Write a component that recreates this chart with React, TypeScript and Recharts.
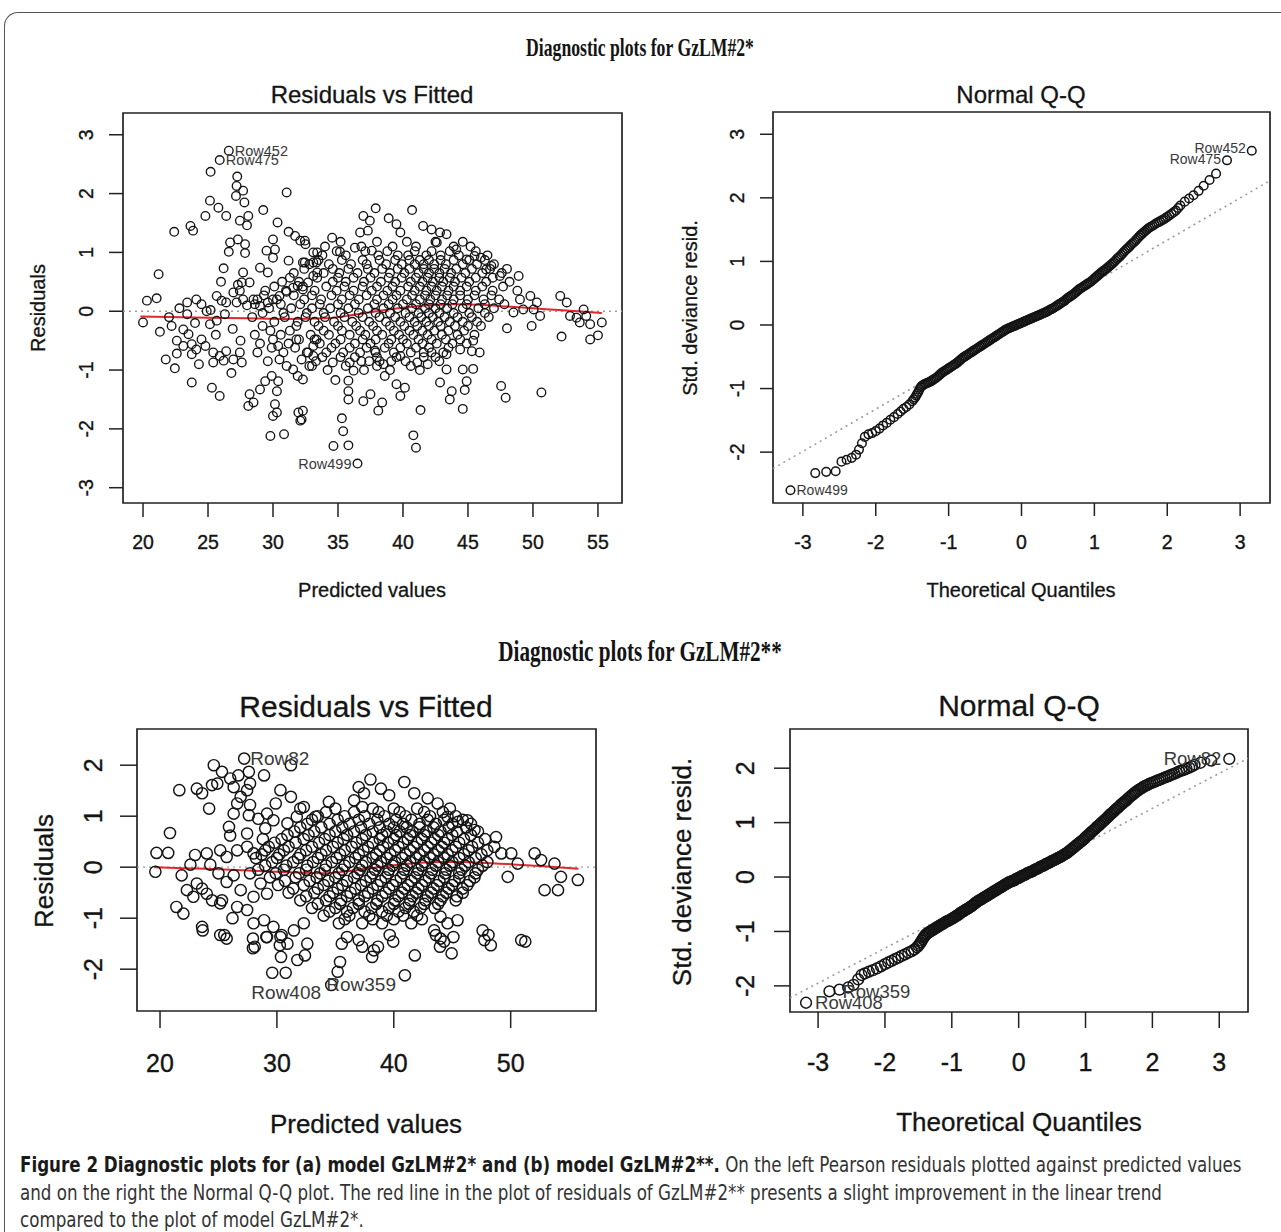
import React from 'react';
import { ComposedChart, Scatter, Line, XAxis, YAxis, ReferenceArea, ReferenceLine } from 'recharts';

const SANS = '"Liberation Sans", Arial, Helvetica, sans-serif';
const SERIF = '"Liberation Serif", "Times New Roman", serif';
const NARROW = '"Liberation Sans Narrow", "Arial Narrow", "DejaVu Sans Condensed", sans-serif';

type P = { x: number; y: number; name?: string };

// ---------- (a) GzLM#2* : residuals vs fitted ----------
const resid1Scattered: number[][] = [
  [26.6, 2.73], [25.9, 2.57], [25.2, 2.37], [27.25, 2.29], [27.2, 2.13], [27.15, 1.96], [27.7, 2.05], [27.8, 1.85],
  [31.05, 2.02], [25.15, 1.88], [25.8, 1.76], [26.4, 1.62], [24.8, 1.62], [22.4, 1.35], [23.65, 1.45], [23.85, 1.37],
  [27.45, 1.54], [28.1, 1.62], [28.0, 1.46], [29.25, 1.72], [30.35, 1.51], [31.2, 1.35], [31.7, 1.28], [32.1, 1.2],
  [32.5, 1.14], [26.7, 1.17], [27.3, 1.22], [27.85, 1.14], [26.6, 1.01], [27.85, 0.99], [30.0, 1.22], [29.5, 1.03],
  [30.15, 1.05], [30.0, 0.91], [26.2, 0.73], [21.2, 0.63], [29.0, 0.74], [29.6, 0.66], [31.2, 0.86], [32.3, 0.83],
  [33.1, 0.83], [33.4, 1.0], [27.7, 0.66], [28.2, 0.49], [27.6, 0.49], [20.3, 0.18], [21.05, 0.22], [23.4, 0.15],
  [24.1, 0.2], [24.5, 0.12], [25.67, 0.26], [26.05, 0.18], [26.95, 0.32], [27.45, 0.35], [27.7, 0.2], [28.5, 0.2],
  [26.4, 0.15], [27.2, 0.15], [29.0, 0.09], [29.6, 0.15], [30.0, 0.2], [30.5, 0.26], [31.05, 0.33], [31.55, 0.4],
  [31.9, 0.43], [32.3, 0.37], [32.7, 0.49], [33.1, 0.6], [33.4, 0.66], [20.0, -0.19],
  [22.2, -0.25], [23.1, -0.31], [23.5, -0.39], [22.6, -0.5], [23.1, -0.59], [23.75, -0.56], [24.1, -0.65], [24.5, -0.48],
  [24.8, -0.59], [25.15, -0.22], [25.67, -0.16], [23.75, -0.73], [25.4, -0.7], [25.9, -0.76], [26.4, -0.68], [26.95, -0.82],
  [27.6, -0.87], [27.45, -0.7], [25.4, -0.87], [26.2, -0.84], [21.75, -0.82], [22.45, -0.97], [23.75, -1.21], [25.3, -1.3],
  [25.9, -1.44], [28.2, -1.41], [28.5, -1.55], [28.1, -1.61], [29.0, -1.33], [29.4, -1.19], [29.9, -1.1], [30.4, -1.19],
  [30.3, -1.36], [30.15, -1.58], [30.3, -1.72], [30.0, -1.78], [29.8, -2.12], [30.85, -2.09], [31.95, -1.72], [32.1, -1.86],
  [30.0, -0.48], [30.4, -0.59], [30.8, -0.7], [30.5, -0.82], [31.05, -0.93], [31.55, -0.99], [31.9, -1.1], [32.3, -1.16],
  [32.8, -0.93], [33.1, -0.76], [32.2, -0.82], [32.6, -0.7], [33.1, -0.59], [33.35, -0.48], [31.8, -0.48],
  [21.3, -0.35], [22.0, -0.1], [22.8, 0.05], [24.0, -0.2], [24.9, 0.0], [25.6, -0.4], [26.3, -0.05], [26.9, -0.3],
  [27.5, -0.5], [28.0, 0.1], [27.3, 0.45], [26.0, 0.5], [25.2, 0.02], [23.4, -0.05], [22.6, -0.72], [24.3, -0.9],
  [26.8, -1.05],
  [36.5, -2.59], [34.65, -2.29], [35.8, -2.28], [35.4, -2.04], [35.3, -1.82], [40.8, -2.11], [41.0, -2.32], [41.35, -1.68],
  [44.6, -1.66], [43.6, -1.5], [43.75, -1.36], [42.85, -1.21], [43.35, -0.99], [44.6, -0.99], [45.4, -0.98], [44.9, -1.19],
  [44.75, -1.34], [47.55, -1.27], [47.9, -1.47], [50.65, -1.38], [52.2, -0.43], [54.4, -0.48], [55.0, -0.41], [55.3, -0.19],
  [54.4, -0.22], [53.6, -0.19], [48.0, -0.29], [49.9, -0.25], [45.4, -0.5], [45.9, -0.7], [34.8, -1.17], [35.8, -1.18],
  [35.8, -1.36], [35.8, -1.5], [36.95, -1.53], [37.5, -1.41], [38.1, -1.69], [38.4, -1.55], [38.6, -1.1], [39.5, -1.24],
  [39.8, -1.44], [40.15, -1.3], [32.3, -1.69], [32.2, -1.84], [38.2, -0.85], [39.1, -0.85], [39.8, -0.76], [41.1, -0.87],
  [41.6, -0.7], [41.9, -0.9], [38.5, -0.9], [34.6, -0.87], [35.9, -0.87], [36.2, -1.01], [37.85, -0.67], [43.35, -0.73],
  [44.4, -0.65], [45.3, -0.68],
  [37.9, 1.75], [40.7, 1.72], [36.95, 1.62], [37.45, 1.54], [36.7, 1.34], [37.3, 1.37], [38.9, 1.58], [39.5, 1.48],
  [39.8, 1.34], [41.55, 1.45], [42.2, 1.39], [42.85, 1.34], [43.35, 1.31], [42.6, 1.17], [34.55, 1.25], [35.15, 1.01],
  [36.3, 1.08], [37.6, 1.03], [32.45, 1.2], [33.1, 1.0], [32.45, 0.83], [33.35, 0.83], [44.1, 1.05], [44.9, 0.88],
  [45.5, 0.94], [46.0, 0.91], [46.8, 0.77], [47.45, 0.6], [48.9, 0.6], [46.4, 0.71], [52.1, 0.26], [52.6, 0.15],
  [53.9, 0.03], [54.1, -0.08], [53.35, -0.11], [52.85, -0.08], [49.0, 0.2], [49.8, 0.26], [50.3, 0.15], [50.05, 0.03],
  [49.25, 0.03], [48.5, -0.02], [50.55, -0.08],
];

// dense middle of plot (a), read row by row: [residual, fitted values...]
const resid1Bands: [number, number[]][] = [
  [1.18, [35.2, 38.0, 40.3, 42.5, 44.6]],
  [1.1, [34.0, 36.8, 39.2, 41.0, 43.9, 45.2]],
  [1.02, [34.9, 37.1, 38.8, 40.9, 42.2, 43.6, 45.6]],
  [0.95, [33.8, 35.6, 38.1, 39.6, 40.4, 41.8, 42.9, 44.3, 46.5]],
  [0.87, [33.5, 35.3, 36.9, 38.2, 39.4, 40.5, 41.3, 42.0, 42.9, 43.9, 45.1, 46.3]],
  [0.8, [32.8, 34.3, 36.0, 37.2, 38.7, 39.9, 40.9, 41.6, 42.4, 43.3, 44.6, 45.7, 47.0]],
  [0.72, [32.4, 34.6, 35.8, 37.3, 38.4, 39.6, 40.5, 41.6, 42.4, 43.2, 44.1, 45.3, 46.7, 48.0]],
  [0.65, [31.6, 33.9, 35.1, 36.5, 37.8, 39.0, 40.1, 41.2, 42.0, 42.8, 43.7, 44.8, 46.1, 47.6]],
  [0.57, [31.3, 33.4, 35.0, 36.2, 37.5, 38.9, 39.9, 41.0, 41.9, 42.8, 43.6, 44.5, 45.6, 46.9]],
  [0.5, [30.7, 32.0, 34.6, 35.6, 37.0, 38.3, 39.4, 40.6, 41.5, 42.3, 43.1, 44.0, 45.1, 46.4, 48.2]],
  [0.42, [30.1, 32.3, 34.1, 35.5, 36.9, 38.0, 39.2, 40.4, 41.3, 42.2, 43.0, 43.9, 44.9, 46.1, 47.7]],
  [0.35, [29.4, 31.0, 33.2, 34.9, 36.2, 37.6, 38.8, 39.8, 40.9, 41.8, 42.6, 43.5, 44.4, 45.6, 46.9, 48.8]],
  [0.27, [29.3, 31.6, 33.0, 34.5, 35.9, 37.2, 38.5, 39.5, 40.7, 41.7, 42.5, 43.4, 44.4, 45.5, 46.8]],
  [0.2, [28.8, 30.3, 32.4, 33.7, 35.3, 36.6, 38.0, 39.2, 40.3, 41.3, 42.1, 43.0, 43.9, 45.0, 46.2, 47.4]],
  [0.12, [28.6, 30.6, 32.1, 33.6, 35.0, 36.3, 37.8, 38.9, 40.0, 41.0, 42.0, 42.9, 43.8, 44.9, 46.3, 47.8]],
  [0.05, [29.7, 31.4, 33.0, 34.4, 35.8, 37.3, 38.5, 39.6, 40.7, 41.7, 42.5, 43.4, 44.6, 45.8, 47.0]],
  [-0.03, [29.2, 30.8, 32.6, 33.9, 35.2, 36.6, 37.9, 39.0, 40.2, 41.2, 42.0, 42.8, 43.9, 45.1, 46.3]],
  [-0.1, [28.4, 30.9, 32.5, 34.0, 35.5, 36.9, 38.2, 39.4, 40.5, 41.4, 42.3, 43.2, 44.2, 45.3, 46.6]],
  [-0.18, [30.1, 31.9, 33.2, 34.7, 36.1, 37.4, 38.7, 39.8, 40.9, 41.8, 42.7, 43.6, 44.6, 45.7]],
  [-0.25, [29.2, 31.8, 33.5, 35.0, 36.4, 37.7, 39.0, 40.1, 41.1, 42.0, 42.9, 44.0, 45.0, 46.0]],
  [-0.33, [29.8, 31.3, 33.9, 35.3, 36.7, 38.0, 39.3, 40.5, 41.5, 42.4, 43.5, 44.7]],
  [-0.4, [28.6, 30.6, 32.9, 34.3, 35.9, 37.1, 38.4, 39.7, 40.8, 41.9, 43.0, 44.2, 45.5]],
  [-0.48, [32.0, 33.2, 35.2, 36.9, 37.9, 39.1, 40.0, 41.2, 42.2, 43.3, 44.4]],
  [-0.55, [29.0, 31.2, 33.6, 34.8, 36.3, 37.5, 38.9, 40.3, 41.5, 42.6, 43.8, 44.9]],
  [-0.62, [29.9, 31.7, 34.5, 35.9, 37.2, 38.6, 39.8, 41.0, 42.0, 43.5]],
  [-0.7, [28.8, 32.7, 34.1, 35.4, 36.7, 37.9, 39.3, 40.6, 42.2, 43.1]],
  [-0.78, [33.8, 35.2, 36.3, 38.0, 39.5, 41.6, 42.5]],
  [-0.85, [29.6, 33.3, 36.8, 37.4, 40.2, 42.8]],
  [-0.93, [33.0, 35.6, 38.0, 40.6]],
  [-1.0, [34.2, 37.0, 39.0, 41.3]],
];

const resid1Smooth: number[][] = [
  [19.8, -0.09], [22, -0.1], [25, -0.11], [28, -0.12], [31, -0.13], [34, -0.12], [36, -0.07], [38, 0.0],
  [40, 0.06], [42, 0.1], [44, 0.12], [46, 0.11], [48, 0.08], [50, 0.05], [52, 0.02], [54, -0.01], [55.3, -0.03],
];

const resid1Labels: P[] = [
  { x: 26.6, y: 2.73, name: 'Row452' },
  { x: 25.9, y: 2.57, name: 'Row475' },
  { x: 36.5, y: -2.59, name: 'Row499' },
];

// ---------- (a) GzLM#2* : normal Q-Q ----------
const qq1Points: number[][] = [
  [-3.17, -2.6], [-2.83, -2.33], [-2.68, -2.31], [-2.55, -2.3], [-2.47, -2.15], [-2.4, -2.12], [-2.33, -2.09], [-2.27, -2.04],
  [-2.23, -1.96], [-2.19, -1.86], [-2.15, -1.76], [-2.1, -1.72], [-2.05, -1.7], [-2.0, -1.67], [-1.95, -1.63], [-1.9, -1.58],
  [-1.85, -1.54], [-1.8, -1.49], [-1.75, -1.45], [-1.7, -1.4], [-1.66, -1.36], [-1.62, -1.32], [-1.58, -1.29], [-1.54, -1.25],
  [-1.5, -1.2], [-1.46, -1.14], [-1.43, -1.08], [-1.4, -1.01], [-1.37, -0.96], [-1.33, -0.93], [-1.29, -0.91], [-1.25, -0.89],
  [-1.21, -0.86], [-1.17, -0.83], [-1.13, -0.79], [-1.09, -0.75], [-1.05, -0.72], [-1.01, -0.69], [-0.97, -0.66], [-0.93, -0.63],
  [-0.89, -0.6], [-0.85, -0.56], [-0.81, -0.52], [-0.77, -0.49], [-0.73, -0.46], [-0.69, -0.43], [-0.65, -0.4], [-0.61, -0.37],
  [-0.57, -0.34], [-0.53, -0.31], [-0.49, -0.28], [-0.45, -0.25], [-0.41, -0.22], [-0.37, -0.19], [-0.33, -0.16], [-0.29, -0.13],
  [-0.25, -0.1], [-0.21, -0.07], [-0.17, -0.05], [-0.13, -0.03], [-0.09, -0.01], [-0.05, 0.01], [-0.01, 0.03], [0.03, 0.05],
  [0.07, 0.07], [0.11, 0.09], [0.15, 0.11], [0.19, 0.13], [0.23, 0.15], [0.27, 0.17], [0.31, 0.19], [0.35, 0.21],
  [0.39, 0.24], [0.43, 0.26], [0.47, 0.29], [0.51, 0.32], [0.55, 0.35], [0.59, 0.38], [0.63, 0.42], [0.67, 0.45],
  [0.71, 0.48], [0.75, 0.52], [0.79, 0.56], [0.83, 0.59], [0.87, 0.62], [0.91, 0.65], [0.95, 0.68], [0.99, 0.72],
  [1.03, 0.76], [1.07, 0.8], [1.11, 0.84], [1.15, 0.87], [1.19, 0.91], [1.23, 0.95], [1.27, 0.99], [1.31, 1.04],
  [1.35, 1.08], [1.39, 1.13], [1.43, 1.18], [1.47, 1.22], [1.51, 1.27], [1.55, 1.31], [1.59, 1.36], [1.63, 1.41],
  [1.67, 1.45], [1.71, 1.49], [1.75, 1.53], [1.8, 1.56], [1.85, 1.6], [1.9, 1.63], [1.95, 1.66], [2.0, 1.7],
  [2.06, 1.75], [2.12, 1.8], [2.18, 1.88], [2.24, 1.94], [2.3, 1.99], [2.36, 2.04], [2.43, 2.11], [2.5, 2.19],
  [2.58, 2.28], [2.67, 2.38], [2.82, 2.59], [3.16, 2.74],
  // more readings where the band is solid
  [-1.48, -1.17], [-1.445, -1.11], [-1.415, -1.05], [-1.385, -0.98], [-1.35, -0.945], [-1.31, -0.92], [-1.27, -0.9],
  [-1.23, -0.875], [-1.19, -0.845], [-1.15, -0.81], [-1.11, -0.77], [-1.07, -0.735], [-1.03, -0.705], [-0.99, -0.675],
  [-0.95, -0.645], [-0.91, -0.615], [-0.87, -0.58], [-0.83, -0.54], [-0.79, -0.505], [-0.75, -0.475], [-0.71, -0.445],
  [-0.67, -0.415], [-0.63, -0.385], [-0.59, -0.355], [-0.55, -0.325], [-0.51, -0.295], [-0.47, -0.265], [-0.43, -0.235],
  [-0.39, -0.205], [-0.35, -0.175], [-0.31, -0.145], [-0.27, -0.115], [-0.23, -0.085], [-0.19, -0.06], [-0.15, -0.04],
  [-0.11, -0.02], [-0.07, 0.0], [-0.03, 0.02], [0.01, 0.04], [0.05, 0.06], [0.09, 0.08], [0.13, 0.1], [0.17, 0.12],
  [0.21, 0.14], [0.25, 0.16], [0.29, 0.18], [0.33, 0.2], [0.37, 0.225], [0.41, 0.25], [0.45, 0.275], [0.49, 0.305],
  [0.53, 0.335], [0.57, 0.365], [0.61, 0.4], [0.65, 0.435], [0.69, 0.465], [0.73, 0.5], [0.77, 0.54], [0.81, 0.575],
  [0.85, 0.605], [0.89, 0.635], [0.93, 0.665], [0.97, 0.7], [1.01, 0.74], [1.05, 0.78], [1.09, 0.82], [1.13, 0.855],
  [1.17, 0.89], [1.21, 0.93], [1.25, 0.97], [1.29, 1.015], [1.33, 1.06], [1.37, 1.105], [1.41, 1.155], [1.45, 1.2],
  [1.49, 1.245], [1.53, 1.29], [1.57, 1.335], [1.61, 1.385], [1.65, 1.43], [1.69, 1.47], [1.73, 1.51], [1.775, 1.545],
  [1.825, 1.58], [1.875, 1.615], [1.925, 1.645], [1.975, 1.68], [2.03, 1.725], [2.09, 1.775], [2.15, 1.84],
];
const qq1RefLine: P[] = [{ x: -3.41, y: -2.26 }, { x: 3.41, y: 2.27 }];
const qq1Labels: P[] = [
  { x: 3.16, y: 2.74, name: 'Row452' },
  { x: 2.82, y: 2.59, name: 'Row475' },
  { x: -3.17, y: -2.6, name: 'Row499' },
];

// ---------- (b) GzLM#2** : residuals vs fitted ----------
const resid2Scattered: number[][] = [
  [27.2, 2.13], [24.6, 2.0], [25.3, 1.87], [26.0, 1.74], [26.7, 1.8], [27.6, 1.87], [28.9, 1.8], [31.2, 2.0],
  [21.65, 1.51], [23.15, 1.54], [23.6, 1.45], [24.45, 1.61], [24.9, 1.64], [26.3, 1.57], [26.9, 1.38], [27.45, 1.51],
  [27.7, 1.64], [26.6, 1.25], [27.7, 1.22], [26.3, 1.05], [27.6, 1.02], [30.3, 1.51], [31.2, 1.38], [32.3, 1.18],
  [29.9, 1.25], [29.15, 1.05], [29.7, 0.92], [30.9, 0.86], [31.7, 0.99], [25.9, 0.79], [27.45, 0.66], [29.0, 0.76],
  [20.85, 0.67], [19.7, 0.28], [20.7, 0.28], [19.6, -0.09], [21.85, -0.16], [23.0, 0.24], [24.0, 0.27], [25.15, 0.33],
  [25.7, 0.2], [26.6, 0.33], [27.45, 0.4], [28.0, 0.27],
  [22.3, -0.45], [22.85, -0.58], [23.6, -0.42], [24.0, -0.52], [23.15, -0.32], [24.45, -0.65], [25.15, -0.71], [21.4, -0.78],
  [22.0, -0.91], [23.6, -1.17], [25.15, -1.33], [25.3, -0.65], [26.6, -0.78], [27.45, -0.84], [28.0, -0.58], [26.9, -0.45],
  [25.7, -0.29], [26.3, -0.16], [27.7, -0.12], [28.6, -0.32], [29.15, -0.52], [28.0, -1.1], [28.9, -1.04], [29.7, -1.17],
  [29.15, -1.37], [30.3, -1.37], [30.9, -1.5], [31.45, -1.24], [32.3, -1.1], [32.6, -1.5], [23.65, -1.24], [25.5, -1.33],
  [25.7, -1.4], [27.95, -1.4], [29.1, -1.37], [28.1, -1.56], [27.95, -1.59], [30.4, -1.33], [30.25, -1.53], [30.35, -1.76],
  [31.75, -1.82], [32.4, -1.73], [29.6, -2.07], [30.75, -2.07],
  [24.3, 0.05], [25.0, -0.12], [26.0, 0.62], [28.4, 0.95], [28.8, 0.55], [24.2, 1.15], [22.6, 0.05], [26.2, -1.0],
  [34.65, -2.31], [35.2, -2.05], [35.4, -1.86], [35.55, -1.5], [36.0, -1.37], [37.0, -1.43], [37.3, -1.56], [38.3, -1.63],
  [38.15, -1.76], [38.65, -1.56], [39.65, -1.33], [39.95, -1.46], [40.95, -2.12], [41.8, -1.73], [43.6, -1.33], [43.95, -1.56],
  [44.95, -1.69], [45.1, -1.37], [44.3, -1.46], [48.1, -1.33], [48.3, -1.53], [51.25, -1.46], [47.6, -1.24], [47.75, -1.43],
  [50.9, -1.43], [44.0, -0.97], [44.6, -1.1], [45.45, -1.04], [43.45, -1.24], [44.0, -1.4],
  [38.0, 1.72], [40.9, 1.67], [37.0, 1.57], [37.45, 1.45], [38.9, 1.54], [39.6, 1.41], [36.6, 1.31], [37.3, 1.18],
  [34.45, 1.28], [33.3, 0.99], [32.0, 1.15], [41.75, 1.45], [42.9, 1.35], [43.75, 1.25], [44.6, 0.99], [45.5, 0.89],
  [46.3, 0.92], [46.9, 0.73], [48.75, 0.59], [49.2, 0.27], [50.05, 0.27], [50.6, 0.07], [49.75, -0.19], [52.05, 0.27],
  [52.6, 0.14], [53.75, 0.07], [54.3, -0.19], [52.9, -0.45], [54.05, -0.45], [55.75, -0.25],
];

const resid2Bands: [number, number[]][] = [
  [1.15, [35.0, 38.2, 40.0, 42.0, 44.8]],
  [1.08, [34.2, 36.6, 38.7, 40.5, 42.6, 44.2]],
  [1.0, [33.5, 35.8, 37.5, 39.2, 41.0, 43.1, 45.3]],
  [0.93, [33.0, 35.2, 37.0, 38.6, 40.2, 41.5, 42.9, 44.3, 45.9]],
  [0.85, [32.6, 34.5, 36.2, 37.9, 39.6, 40.8, 42.2, 43.6, 45.0, 46.6]],
  [0.78, [32.0, 33.8, 35.6, 37.2, 38.8, 40.0, 41.1, 42.2, 43.4, 44.7, 46.2]],
  [0.7, [31.5, 33.2, 35.0, 36.6, 38.2, 39.4, 40.5, 41.6, 42.8, 44.0, 45.4, 47.2]],
  [0.63, [30.9, 32.7, 34.5, 36.0, 37.6, 39.0, 40.2, 41.4, 42.6, 43.8, 45.0, 46.6]],
  [0.55, [30.4, 32.3, 34.1, 35.7, 37.3, 38.8, 40.0, 41.2, 42.4, 43.5, 44.6, 46.0, 47.8]],
  [0.48, [29.8, 31.6, 33.6, 35.2, 36.8, 38.2, 39.5, 40.8, 42.0, 43.2, 44.3, 45.6, 47.2]],
  [0.4, [29.3, 31.0, 33.0, 34.8, 36.4, 37.8, 39.1, 40.4, 41.7, 42.9, 44.1, 45.3, 46.7, 48.6]],
  [0.33, [29.0, 30.6, 32.5, 34.2, 35.8, 37.4, 38.8, 40.1, 41.4, 42.6, 43.8, 45.0, 46.4, 48.0]],
  [0.25, [28.7, 30.2, 32.0, 33.8, 35.4, 37.0, 38.5, 39.7, 41.0, 42.2, 43.4, 44.6, 46.0, 47.5]],
  [0.18, [28.2, 30.0, 31.8, 33.5, 35.1, 36.7, 38.2, 39.4, 40.7, 41.9, 43.1, 44.3, 45.6, 47.0]],
  [0.1, [29.6, 31.4, 33.1, 34.7, 36.2, 37.6, 38.9, 40.1, 41.4, 42.6, 43.8, 45.0, 46.4, 48.0]],
  [0.03, [29.0, 30.8, 32.6, 34.2, 35.8, 37.3, 38.6, 39.9, 41.1, 42.4, 43.6, 44.8, 46.1, 47.6]],
  [-0.05, [28.4, 30.6, 32.5, 34.1, 35.6, 37.1, 38.4, 39.6, 40.9, 42.1, 43.3, 44.5, 45.8, 47.2]],
  [-0.12, [29.9, 31.9, 33.7, 35.3, 36.9, 38.2, 39.5, 40.8, 42.0, 43.2, 44.4, 45.6, 47.0]],
  [-0.2, [29.4, 31.6, 33.4, 35.0, 36.6, 38.0, 39.3, 40.6, 41.8, 43.0, 44.3, 45.6, 46.9]],
  [-0.27, [30.7, 32.8, 34.4, 36.0, 37.6, 38.9, 40.2, 41.5, 42.7, 43.9, 45.2, 46.5]],
  [-0.35, [30.1, 32.3, 34.0, 35.6, 37.2, 38.6, 39.9, 41.2, 42.4, 43.7, 45.0, 46.3]],
  [-0.42, [31.4, 33.5, 35.2, 36.7, 38.2, 39.6, 40.9, 42.1, 43.4, 44.7, 45.9]],
  [-0.5, [31.0, 33.2, 34.8, 36.3, 37.8, 39.3, 40.7, 41.9, 43.2, 44.5, 45.9]],
  [-0.57, [32.5, 34.5, 36.0, 37.5, 39.0, 40.4, 41.6, 42.9, 44.2, 45.4]],
  [-0.65, [32.0, 34.2, 35.5, 37.0, 38.6, 40.1, 41.4, 42.7, 44.0, 45.3]],
  [-0.72, [33.5, 35.4, 37.0, 38.5, 40.0, 41.3, 42.6, 43.8]],
  [-0.8, [33.0, 35.0, 36.5, 38.1, 39.6, 41.0, 42.3, 43.5]],
  [-0.87, [34.5, 36.0, 37.5, 39.0, 40.4, 41.7]],
  [-0.95, [34.0, 36.2, 37.9, 39.4, 40.8, 42.0]],
  [-1.02, [35.8, 38.2, 40.0, 42.4]],
  [-1.1, [35.3, 37.3, 39.0, 41.5]],
];

const resid2Smooth: number[][] = [
  [19.5, 0.0], [22, -0.02], [25, -0.04], [28, -0.07], [31, -0.1], [34, -0.12], [36, -0.08], [38, -0.02],
  [40, 0.04], [42, 0.08], [44, 0.1], [46, 0.1], [48, 0.08], [50, 0.06], [52, 0.03], [54, 0.0], [55.8, -0.03],
];

const resid2Labels: P[] = [
  { x: 27.2, y: 2.13, name: 'Row82' },
  { x: 27.3, y: -2.45, name: 'Row408' },
  { x: 34.65, y: -2.31, name: 'Row359' },
];

// ---------- (b) GzLM#2** : normal Q-Q ----------
const qq2Points: number[][] = [
  [-3.18, -2.31], [-2.83, -2.1], [-2.68, -2.07], [-2.55, -2.03], [-2.47, -1.98], [-2.4, -1.88], [-2.35, -1.8], [-2.3, -1.77],
  [-2.24, -1.74], [-2.18, -1.71], [-2.12, -1.68], [-2.06, -1.64], [-2.0, -1.6], [-1.95, -1.57], [-1.9, -1.54], [-1.85, -1.51],
  [-1.8, -1.48], [-1.75, -1.45], [-1.7, -1.42], [-1.65, -1.39], [-1.6, -1.36], [-1.56, -1.33], [-1.52, -1.29], [-1.48, -1.23],
  [-1.45, -1.17], [-1.42, -1.11], [-1.39, -1.06], [-1.35, -1.02], [-1.31, -0.99], [-1.27, -0.96], [-1.23, -0.93], [-1.19, -0.9],
  [-1.15, -0.87], [-1.11, -0.84], [-1.07, -0.81], [-1.03, -0.79], [-0.99, -0.76], [-0.95, -0.73], [-0.91, -0.7], [-0.87, -0.66],
  [-0.83, -0.63], [-0.79, -0.6], [-0.75, -0.57], [-0.71, -0.54], [-0.67, -0.5], [-0.63, -0.46], [-0.59, -0.43], [-0.55, -0.4],
  [-0.51, -0.37], [-0.47, -0.34], [-0.43, -0.31], [-0.39, -0.28], [-0.35, -0.25], [-0.31, -0.22], [-0.27, -0.19], [-0.23, -0.16],
  [-0.19, -0.13], [-0.15, -0.1], [-0.11, -0.08], [-0.07, -0.06], [-0.03, -0.03], [0.01, -0.01], [0.05, 0.02], [0.09, 0.04],
  [0.13, 0.07], [0.17, 0.09], [0.21, 0.11], [0.25, 0.14], [0.29, 0.16], [0.33, 0.19], [0.37, 0.21], [0.41, 0.24],
  [0.45, 0.26], [0.49, 0.29], [0.53, 0.31], [0.57, 0.34], [0.61, 0.36], [0.65, 0.39], [0.69, 0.42], [0.73, 0.45],
  [0.77, 0.49], [0.81, 0.53], [0.85, 0.57], [0.89, 0.61], [0.93, 0.65], [0.97, 0.69], [1.01, 0.74], [1.05, 0.78],
  [1.09, 0.83], [1.13, 0.87], [1.17, 0.92], [1.21, 0.96], [1.25, 1.01], [1.29, 1.05], [1.33, 1.1], [1.37, 1.15],
  [1.41, 1.19], [1.45, 1.24], [1.49, 1.28], [1.53, 1.33], [1.57, 1.37], [1.61, 1.41], [1.65, 1.46], [1.69, 1.5],
  [1.73, 1.54], [1.77, 1.58], [1.82, 1.62], [1.87, 1.66], [1.92, 1.69], [1.97, 1.72], [2.03, 1.75], [2.09, 1.78],
  [2.15, 1.81], [2.21, 1.84], [2.27, 1.87], [2.33, 1.9], [2.4, 1.94], [2.47, 1.97], [2.55, 2.01], [2.63, 2.06],
  [2.72, 2.1], [2.88, 2.14], [3.15, 2.17],
  // more readings where the band is solid
  [-1.5, -1.26], [-1.465, -1.2], [-1.435, -1.14], [-1.405, -1.085], [-1.37, -1.04], [-1.33, -1.005], [-1.29, -0.975],
  [-1.25, -0.945], [-1.21, -0.915], [-1.17, -0.885], [-1.13, -0.855], [-1.09, -0.825], [-1.05, -0.8], [-1.01, -0.775],
  [-0.97, -0.745], [-0.93, -0.715], [-0.89, -0.68], [-0.85, -0.645], [-0.81, -0.615], [-0.77, -0.585], [-0.73, -0.555],
  [-0.69, -0.52], [-0.65, -0.48], [-0.61, -0.445], [-0.57, -0.415], [-0.53, -0.385], [-0.49, -0.355], [-0.45, -0.325],
  [-0.41, -0.295], [-0.37, -0.265], [-0.33, -0.235], [-0.29, -0.205], [-0.25, -0.175], [-0.21, -0.145], [-0.17, -0.115],
  [-0.13, -0.09], [-0.09, -0.07], [-0.05, -0.045], [-0.01, -0.02], [0.03, 0.005], [0.07, 0.03], [0.11, 0.055], [0.15, 0.08],
  [0.19, 0.1], [0.23, 0.125], [0.27, 0.15], [0.31, 0.175], [0.35, 0.2], [0.39, 0.225], [0.43, 0.25], [0.47, 0.275],
  [0.51, 0.3], [0.55, 0.325], [0.59, 0.35], [0.63, 0.375], [0.67, 0.405], [0.71, 0.435], [0.75, 0.47], [0.79, 0.51],
  [0.83, 0.55], [0.87, 0.59], [0.91, 0.63], [0.95, 0.67], [0.99, 0.715], [1.03, 0.76], [1.07, 0.805], [1.11, 0.85],
  [1.15, 0.895], [1.19, 0.94], [1.23, 0.985], [1.27, 1.03], [1.31, 1.075], [1.35, 1.125], [1.39, 1.17], [1.43, 1.215],
  [1.47, 1.26], [1.51, 1.305], [1.55, 1.35], [1.59, 1.39], [1.63, 1.435], [1.67, 1.48], [1.71, 1.52], [1.75, 1.56],
  [1.795, 1.6], [1.845, 1.64], [1.895, 1.675], [1.945, 1.705], [2.0, 1.735], [2.06, 1.765], [2.12, 1.795], [2.18, 1.825],
  [2.24, 1.855], [2.3, 1.885], [2.365, 1.92], [2.435, 1.955], [2.51, 1.99], [2.59, 2.035],
];
const qq2RefLine: P[] = [{ x: -3.42, y: -2.22 }, { x: 3.43, y: 2.18 }];
const qq2Labels: P[] = [
  { x: 3.15, y: 2.17, name: 'Row82' },
  { x: -2.83, y: -2.1, name: 'Row359' },
  { x: -3.18, y: -2.31, name: 'Row408' },
];

// axis ticks
const fittedTicksA = [20, 25, 30, 35, 40, 45, 50, 55];
const residTicksA = [-3, -2, -1, 0, 1, 2, 3];
const quantTicks = [-3, -2, -1, 0, 1, 2, 3];
const qqTicksA = [-2, -1, 0, 1, 2, 3];
const fittedTicksB = [20, 30, 40, 50];
const residTicksB = [-2, -1, 0, 1, 2];
const qqTicksB = [-2, -1, 0, 1, 2];

const toPts = (a: number[][]): P[] => a.map(([x, y]) => ({ x, y }));
const fromBands = (b: [number, number[]][]): P[] => b.flatMap(([y, xs]) => xs.map((x) => ({ x, y })));

// label placement: [dx, dy, anchor]
type Place = Record<string, [number, number, 'start' | 'end']>;
const placeResid1: Place = { Row452: [6, 0, 'start'], Row475: [6, 0, 'start'], Row499: [-6, 0, 'end'] };
const placeQq1: Place = { Row452: [-6, -3, 'end'], Row475: [-6, -1, 'end'], Row499: [6, 0, 'start'] };
const placeResid2: Place = { Row82: [6, 0, 'start'], Row408: [6, 0, 'start'], Row359: [-5, 0, 'start'] };
const placeQq2: Place = { Row82: [-8, 0, 'end'], Row359: [13, 0, 'start'], Row408: [9, 0, 'start'] };

const PAD = { l: 70, r: 14, t: 14, b: 70 };
const INK = '#141414';

interface PanelProps {
  box: { left: number; top: number; width: number; height: number };
  xDomain: [number, number];
  yDomain: [number, number];
  xTicks: number[];
  yTicks: number[];
  tickSize: number;
  tickFont: number;
  xTickBase: number; // box bottom -> tick label baseline
  yTickBase: number; // box left -> tick label baseline
  points: P[];
  r: number;
  ring: number;
  smooth?: P[];
  zeroLine?: boolean;
  refSegment?: P[];
  labels: P[];
  place: Place;
  labelFont: number;
}

const Panel = (p: PanelProps) => {
  const W = p.box.width + PAD.l + PAD.r;
  const H = p.box.height + PAD.t + PAD.b;
  const circle = (s: any) => (
    <circle cx={s.cx} cy={s.cy} r={p.r} fill="none" stroke={INK} strokeWidth={p.ring} />
  );
  const labelShape = (s: any) => {
    const [dx, dy, anchor] = p.place[s.payload.name];
    return (
      <text x={s.cx + dx} y={s.cy + dy} textAnchor={anchor} dominantBaseline="central"
        fontSize={p.labelFont} fontFamily={SANS} fill="#3a3a3a">{s.payload.name}</text>
    );
  };
  const xTick = (t: any) => (
    <text x={t.x} y={p.box.height + PAD.t + p.xTickBase} textAnchor="middle"
      fontSize={p.tickFont} fontFamily={SANS} fill={INK} stroke={INK} strokeWidth={0.35}>{t.payload.value}</text>
  );
  const yTick = (t: any) => (
    <text transform={`translate(${PAD.l - p.yTickBase},${t.y}) rotate(-90)`} textAnchor="middle"
      fontSize={p.tickFont} fontFamily={SANS} fill={INK} stroke={INK} strokeWidth={0.35}>{t.payload.value}</text>
  );
  return (
    <div style={{ position: 'absolute', left: p.box.left - PAD.l, top: p.box.top - PAD.t, width: W, height: H }}>
      <ComposedChart width={W} height={H} margin={{ top: PAD.t, right: PAD.r, bottom: 0, left: 0 }}>
        <XAxis type="number" dataKey="x" domain={p.xDomain} ticks={p.xTicks} interval={0} height={PAD.b}
          tickSize={p.tickSize} tickMargin={0} axisLine={false}
          tickLine={{ stroke: '#222', strokeWidth: 1.5 }} tick={xTick} />
        <YAxis type="number" dataKey="y" domain={p.yDomain} ticks={p.yTicks} interval={0} width={PAD.l}
          tickSize={p.tickSize} tickMargin={0} axisLine={false}
          tickLine={{ stroke: '#222', strokeWidth: 1.5 }} tick={yTick} />
        {p.zeroLine && (
          <ReferenceLine y={0} stroke="#9c9c9c" strokeWidth={1.3} strokeDasharray="2 4" />
        )}
        {p.refSegment && (
          <ReferenceLine segment={p.refSegment} stroke="#9c9c9c" strokeWidth={1.6} strokeDasharray="2 4" />
        )}
        <Scatter data={p.points} shape={circle} isAnimationActive={false} />
        {p.smooth && (
          <Line data={p.smooth} dataKey="y" type="monotone" dot={false} stroke="#e4262d" strokeWidth={2}
            isAnimationActive={false} />
        )}
        <Scatter data={p.labels} shape={labelShape} isAnimationActive={false} />
        <ReferenceArea x1={p.xDomain[0]} x2={p.xDomain[1]} y1={p.yDomain[0]} y2={p.yDomain[1]}
          fill="none" fillOpacity={0} stroke="#222" strokeWidth={1.7} ifOverflow="visible" />
      </ComposedChart>
    </div>
  );
};

interface TProps {
  x: number; y: number; size: number; children: React.ReactNode;
  rotate?: boolean; weight?: string; family?: string; sx?: number;
}
const T = (props: TProps) => {
  const tf = props.rotate
    ? `translate(${props.x},${props.y}) rotate(-90)`
    : `translate(${props.x},${props.y}) scale(${props.sx || 1},1)`;
  return (
    <text transform={tf} x={0} y={0} textAnchor="middle" fontSize={props.size}
      fontWeight={props.weight || 'normal'} fontFamily={props.family || SANS} fill={INK}
      stroke={props.family ? 'none' : INK} strokeWidth={0.3}>
      {props.children}
    </text>
  );
};

export default function App() {
  const resid1 = [...toPts(resid1Scattered), ...fromBands(resid1Bands)];
  const resid2 = [...toPts(resid2Scattered), ...fromBands(resid2Bands)];
  return (
    <div style={{ position: 'absolute', left: 0, top: 0, width: 1281, height: 1232, overflow: 'hidden', background: '#fff' }}>
      <div style={{
        position: 'absolute', left: 4, top: 12, width: 1320, height: 1300,
        borderTop: '1.5px solid #555', borderLeft: '1.5px solid #555', borderTopLeftRadius: 14,
      }} />

      <Panel box={{ left: 123, top: 113, width: 499, height: 390 }} xDomain={[18.46, 56.85]} yDomain={[-3.26, 3.37]}
        xTicks={fittedTicksA} yTicks={residTicksA} tickSize={14} tickFont={19.5} xTickBase={46} yTickBase={30}
        points={resid1} r={4.3} ring={1.35} smooth={toPts(resid1Smooth)} zeroLine labels={resid1Labels}
        place={placeResid1} labelFont={14.5} />

      <Panel box={{ left: 773, top: 112, width: 497, height: 391 }} xDomain={[-3.41, 3.41]} yDomain={[-2.8, 3.35]}
        xTicks={quantTicks} yTicks={qqTicksA} tickSize={13} tickFont={19.5} xTickBase={46} yTickBase={29}
        points={toPts(qq1Points)} r={4.3} ring={1.5} refSegment={qq1RefLine} labels={qq1Labels}
        place={placeQq1} labelFont={14} />

      <Panel box={{ left: 137, top: 729, width: 459, height: 282 }} xDomain={[18.03, 57.3]} yDomain={[-2.82, 2.71]}
        xTicks={fittedTicksB} yTicks={residTicksB} tickSize={17} tickFont={25} xTickBase={61} yTickBase={35}
        points={resid2} r={5.6} ring={1.45} smooth={toPts(resid2Smooth)} zeroLine labels={resid2Labels}
        place={placeResid2} labelFont={19} />

      <Panel box={{ left: 790, top: 729, width: 458, height: 283 }} xDomain={[-3.42, 3.43]} yDomain={[-2.48, 2.72]}
        xTicks={quantTicks} yTicks={qqTicksB} tickSize={16} tickFont={25} xTickBase={59} yTickBase={36}
        points={toPts(qq2Points)} r={5.4} ring={1.5} refSegment={qq2RefLine} labels={qq2Labels}
        place={placeQq2} labelFont={18.5} />

      <svg width={1281} height={1232} style={{ position: 'absolute', left: 0, top: 0, pointerEvents: 'none' }}>
        <T x={640} y={56} size={26} weight="bold" family={SERIF} sx={0.68}>Diagnostic plots for GzLM#2*</T>
        <T x={372} y={103} size={24}>Residuals vs Fitted</T>
        <T x={1021} y={103} size={24}>Normal Q-Q</T>
        <T x={372} y={597} size={20}>Predicted values</T>
        <T x={1021} y={597} size={20}>Theoretical Quantiles</T>
        <T x={45} y={308} size={20} rotate>Residuals</T>
        <T x={697} y={308} size={20} rotate>Std. deviance resid.</T>

        <T x={640} y={661} size={29} weight="bold" family={SERIF} sx={0.73}>Diagnostic plots for GzLM#2**</T>
        <T x={366} y={717} size={30}>Residuals vs Fitted</T>
        <T x={1019} y={716} size={30}>Normal Q-Q</T>
        <T x={366} y={1133} size={26}>Predicted values</T>
        <T x={1019} y={1131} size={26}>Theoretical Quantiles</T>
        <T x={53} y={871} size={26} rotate>Residuals</T>
        <T x={691} y={872} size={26} rotate>Std. deviance resid.</T>

        <g transform="translate(20,0) scale(0.885,1)" fontFamily={NARROW} fontSize={21} fill="#333">
          <text x={0} y={1172}>
            <tspan fontWeight="bold" fill="#1a1a1a">Figure 2 Diagnostic plots for (a) model GzLM#2* and (b) model GzLM#2**.</tspan>
            {' '}On the left Pearson residuals plotted against predicted values
          </text>
          <text x={0} y={1200}>
            and on the right the Normal Q-Q plot. The red line in the plot of residuals of GzLM#2** presents a slight improvement in the linear trend
          </text>
          <text x={0} y={1227}>compared to the plot of model GzLM#2*.</text>
        </g>
      </svg>
    </div>
  );
}
